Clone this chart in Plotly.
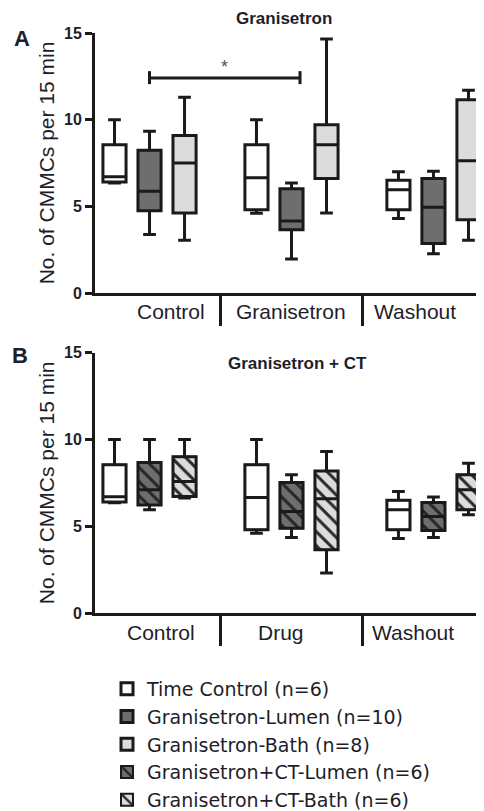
import plotly.graph_objects as go

# ---------------- data ----------------
cats_A = ["Control", "Granisetron", "Washout"]
cats_B = ["Control", "Drug", "Washout"]

# Time Control (n=6) - same animals in both panels
tc_min = [6.35, 4.6, 4.3]
tc_q1 = [6.4, 4.8, 4.8]
tc_med = [6.7, 6.65, 5.95]
tc_q3 = [8.55, 8.55, 6.5]
tc_max = [10.0, 10.0, 7.0]

# Granisetron-Lumen (n=10)
gl_min = [3.37, 1.96, 2.27]
gl_q1 = [4.75, 3.65, 2.85]
gl_med = [5.87, 4.15, 4.95]
gl_q3 = [8.23, 6.02, 6.6]
gl_max = [9.33, 6.35, 7.02]

# Granisetron-Bath (n=8)
gb_min = [3.04, 4.62, 3.04]
gb_q1 = [4.62, 6.6, 4.23]
gb_med = [7.5, 8.56, 7.63]
gb_q3 = [9.08, 9.71, 11.15]
gb_max = [11.29, 14.65, 11.69]

# Granisetron+CT-Lumen (n=6)
cl_min = [5.95, 4.35, 4.35]
cl_q1 = [6.23, 4.89, 4.76]
cl_med = [7.1, 5.85, 5.56]
cl_q3 = [8.67, 7.52, 6.37]
cl_max = [10.0, 7.96, 6.68]

# Granisetron+CT-Bath (n=6)
cb_min = [6.62, 2.3, 5.66]
cb_q1 = [6.71, 3.64, 5.95]
cb_med = [7.58, 6.58, 7.1]
cb_q3 = [9.0, 8.19, 7.96]
cb_max = [10.0, 9.3, 8.63]

names = ["Time Control (n=6)", "Granisetron-Lumen (n=10)", "Granisetron-Bath (n=8)",
         "Granisetron+CT-Lumen (n=6)", "Granisetron+CT-Bath (n=6)"]

# ---------------- styling ----------------
FONT = "Liberation Sans, Arial, sans-serif"
LFONT = "DejaVu Sans, Liberation Sans, sans-serif"
TXT = "#1e1e2a"
INK = "#1a1a1a"
WHITE = "#ffffff"
DARK = "#6e6e6e"
LIGHT = "#dcdcdc"
CLEAR = "rgba(0,0,0,0)"

# page has an 8px body margin; size the figure so it fills the window exactly
OFF = 8
W, H = 484 - OFF, 811 - OFF


def px(xp):
    return (xp - OFF) / W


def py(yp):
    return 1 - (yp - OFF) / H


fig = go.Figure()


def add_box(x, lo, q1, med, q3, hi, name, fill, xa, ya, ag, og, showlegend, rank):
    fig.add_trace(go.Box(
        x=x, lowerfence=lo, q1=q1, median=med, q3=q3, upperfence=hi,
        name=name, fillcolor=fill, line=dict(color=INK, width=3),
        whiskerwidth=0.55, boxpoints=False, xaxis=xa, yaxis=ya,
        alignmentgroup=ag, offsetgroup=og,
        showlegend=showlegend, legendrank=rank, hoverinfo="skip"))


# Panel A
add_box(cats_A, tc_min, tc_q1, tc_med, tc_q3, tc_max, names[0], WHITE, "x", "y", "A", "tc", True, 1)
add_box(cats_A, gl_min, gl_q1, gl_med, gl_q3, gl_max, names[1], DARK, "x", "y", "A", "l", True, 2)
add_box(cats_A, gb_min, gb_q1, gb_med, gb_q3, gb_max, names[2], LIGHT, "x", "y", "A", "b", True, 3)

# Panel B: hatched fills via bars spanning q1..q3, boxes drawn on top
bar_specs = [
    (tc_q1, tc_q3, names[0], WHITE, WHITE, "", "tc", False, 10),
    (cl_q1, cl_q3, names[3], DARK, "#262626", "\\", "l", True, 4),
    (cb_q1, cb_q3, names[4], LIGHT, "#2a2a2a", "\\", "b", True, 5),
]
for q1, q3, nm, bg, fg, shp, og, sl, rk in bar_specs:
    fig.add_trace(go.Bar(
        x=cats_B, y=[b - a for a, b in zip(q1, q3)], base=q1, name=nm,
        marker=dict(color=bg, line=dict(color=INK, width=2),
                    pattern=dict(shape=shp, bgcolor=bg, fgcolor=fg, size=10, solidity=0.3,
                                 fillmode="replace")),
        alignmentgroup="Bbar", offsetgroup=og,
        xaxis="x2", yaxis="y2", showlegend=sl, legendrank=rk, hoverinfo="skip"))

add_box(cats_B, tc_min, tc_q1, tc_med, tc_q3, tc_max, names[0], CLEAR, "x2", "y2", "B", "tc", False, 11)
add_box(cats_B, cl_min, cl_q1, cl_med, cl_q3, cl_max, names[3], CLEAR, "x2", "y2", "B", "l", False, 12)
add_box(cats_B, cb_min, cb_q1, cb_med, cb_q3, cb_max, names[4], CLEAR, "x2", "y2", "B", "b", False, 13)

xdom = [px(95), 1.0]
ydomA = [py(293), py(33)]
ydomB = [py(613), py(352.7)]
xrange_ = [-0.384, 2.356]

xcommon = dict(type="category", range=xrange_, showline=True, linewidth=3, linecolor=INK,
               ticks="outside", tickson="boundaries", ticklen=30, tickwidth=3, tickcolor=INK,
               showticklabels=False, showgrid=False, zeroline=False, fixedrange=True,
               automargin=False)
ycommon = dict(range=[0, 15], tickvals=[0, 5, 10, 15], showline=True, linewidth=3, linecolor=INK,
               ticks="outside", ticklen=7, tickwidth=3, tickcolor=INK,
               tickfont=dict(family=FONT, size=16, color=TXT, weight="bold"),
               showgrid=False, zeroline=False, automargin=True, fixedrange=True,
               title=dict(text="No. of CMMCs per 15 min", font=dict(family=FONT, size=21, color=TXT),
                          standoff=4))

fig.update_layout(
    width=W, height=H, margin=dict(l=0, r=0, t=0, b=0, autoexpand=False),
    paper_bgcolor="white", plot_bgcolor="white",
    font=dict(family=FONT, color=TXT),
    boxmode="group", boxgap=0.26, boxgroupgap=0.34,
    barmode="group", bargap=0.26, bargroupgap=0.34,
    xaxis=dict(domain=xdom, anchor="y", categoryorder="array", categoryarray=cats_A, **xcommon),
    yaxis=dict(domain=ydomA, anchor="x", **ycommon),
    xaxis2=dict(domain=xdom, anchor="y2", categoryorder="array", categoryarray=cats_B, **xcommon),
    yaxis2=dict(domain=ydomB, anchor="x2", **ycommon),
    legend=dict(x=px(107), xanchor="left", y=py(670), yanchor="top",
                font=dict(family=LFONT, size=19, color=TXT), bgcolor=CLEAR,
                tracegroupgap=0, itemclick=False),
)

# category labels (annotations so they can sit where the original places them)
labA_shift = [21, 0, -18]
labB_shift = [11, -10, -20]
for c, s in zip(cats_A, labA_shift):
    fig.add_annotation(x=c, xref="x", y=py(312), yref="paper", text=c, showarrow=False,
                       xshift=s, font=dict(family=FONT, size=21, color=TXT),
                       xanchor="center", yanchor="middle")
for c, s in zip(cats_B, labB_shift):
    fig.add_annotation(x=c, xref="x2", y=py(632), yref="paper", text=c, showarrow=False,
                       xshift=s, font=dict(family=FONT, size=21, color=TXT),
                       xanchor="center", yanchor="middle")

# panel titles and letters
txt_anns = [
    ("<b>Granisetron</b>", 284, 18, 17),
    ("<b>Granisetron + CT</b>", 297, 363, 17),
    ("<b>A</b>", 22, 38, 22),
    ("<b>B</b>", 20, 356, 22),
]
for t, xp_, yp_, fs in txt_anns:
    fig.add_annotation(x=px(xp_), y=py(yp_), xref="paper", yref="paper", text=t,
                       showarrow=False, xanchor="center", yanchor="middle",
                       font=dict(family=FONT, size=fs, color=TXT))

# significance bracket
br_y, br_lo, br_hi = 12.4, 12.05, 12.8
for sh in [dict(x0=0, x1=1.06, y0=br_y, y1=br_y),
           dict(x0=0, x1=0, y0=br_lo, y1=br_hi),
           dict(x0=1.06, x1=1.06, y0=br_lo, y1=br_hi)]:
    fig.add_shape(type="line", xref="x", yref="y", line=dict(color=INK, width=3), **sh)
fig.add_annotation(x=0.53, y=13.05, xref="x", yref="y", text="*", showarrow=False,
                   xanchor="center", yanchor="middle",
                   font=dict(family=FONT, size=18, color="#555"))

fig.write_html("out.html")
